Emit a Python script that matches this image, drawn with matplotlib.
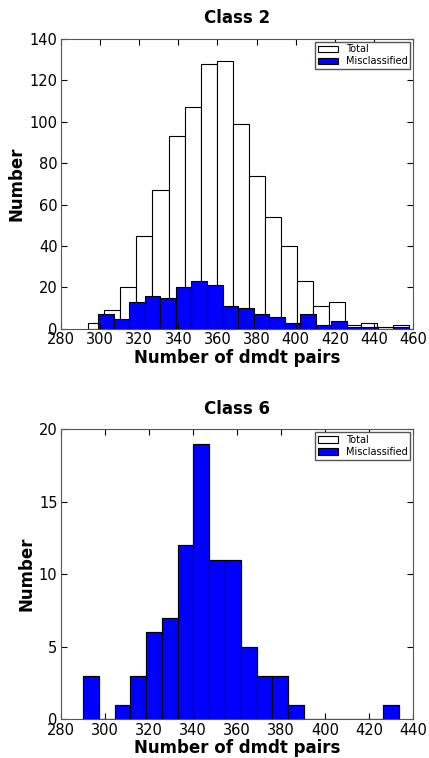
import numpy as np
import matplotlib
matplotlib.use("Agg")
import matplotlib.pyplot as plt

# Class 2: counts per bin, 20 bins each over its own range
class2_total_range = (294.0, 458.0)
class2_total = [3, 9, 20, 45, 67, 93, 107, 128, 129, 99,
                74, 54, 40, 23, 11, 13, 2, 3, 1, 2]
class2_mis_range = (299.0, 458.0)
class2_mis = [7, 5, 13, 16, 15, 20, 23, 21, 11, 10,
              7, 6, 3, 7, 2, 4, 1, 1, 0, 1]

# Class 6: every object misclassified, so both histograms coincide
class6_range = (290.0, 433.5)
class6_total = [3, 0, 1, 3, 6, 7, 12, 19, 11, 11,
                5, 3, 3, 1, 0, 0, 0, 0, 0, 1]
class6_mis = list(class6_total)

panels = [
    ("Class 2", class2_total_range, class2_total, class2_mis_range, class2_mis,
     (280, 460), np.arange(280, 461, 20), (0, 140), np.arange(0, 141, 20)),
    ("Class 6", class6_range, class6_total, class6_range, class6_mis,
     (280, 440), np.arange(280, 441, 20), (0, 20), np.arange(0, 21, 5)),
]


def draw_hist(ax, rng, counts, **kw):
    edges = np.linspace(rng[0], rng[1], len(counts) + 1)
    ax.hist(edges[:-1], bins=edges, weights=counts, histtype="bar",
            edgecolor="black", linewidth=0.8, **kw)


fig = plt.figure(figsize=(4.29, 7.58), dpi=100, facecolor="white")
boxes = [[0.142, 0.566, 0.821, 0.383], [0.142, 0.051, 0.821, 0.383]]

for box, (title, trng, tot, mrng, mis, xlim, xt, ylim, yt) in zip(boxes, panels):
    ax = fig.add_axes(box)
    draw_hist(ax, trng, tot, color="white", label="Total")
    draw_hist(ax, mrng, mis, color="blue", label="Misclassified")
    ax.set_xlim(*xlim)
    ax.set_ylim(*ylim)
    ax.set_xticks(xt)
    ax.set_yticks(yt)
    ax.tick_params(direction="in", top=True, right=True, length=4,
                   labelsize=10.5, pad=2.5)
    for s in ax.spines.values():
        s.set_color("#555555")
    ax.set_title(title, fontsize=12, fontweight="bold", pad=11)
    ax.set_xlabel("Number of dmdt pairs", fontsize=12, fontweight="bold",
                  labelpad=1)
    ax.set_ylabel("Number", fontsize=12, fontweight="bold", labelpad=2.5)
    ax.legend(loc="upper right", fontsize=7, fancybox=False, framealpha=1,
              edgecolor="#555555", borderaxespad=0.3, borderpad=0.3,
              handlelength=2.0, handletextpad=0.8, labelspacing=0.2)

fig.savefig("out.png", dpi=100, facecolor="white")
